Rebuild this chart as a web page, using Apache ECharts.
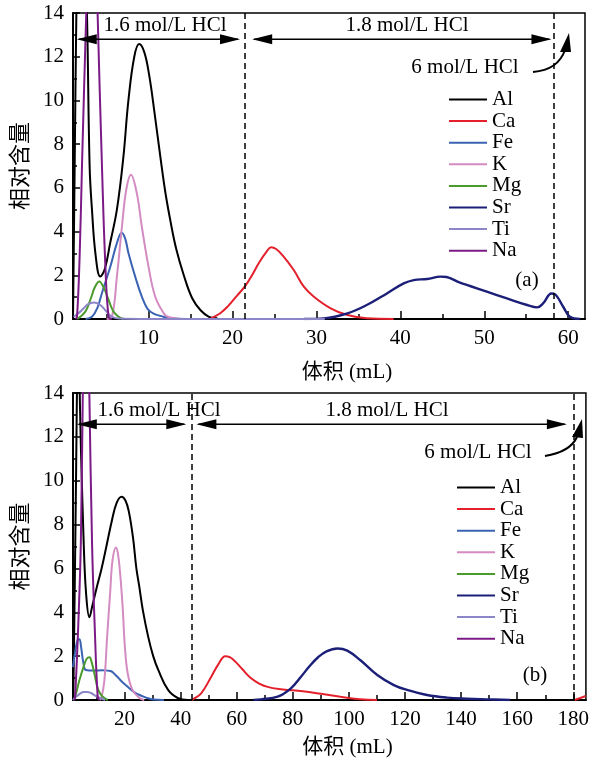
<!DOCTYPE html>
<html><head><meta charset="utf-8">
<script src="https://cdn.jsdelivr.net/npm/echarts@6/dist/echarts.min.js"></script>
<style>html,body{margin:0;padding:0;background:#fff}#c{width:592px;height:762px}</style>
</head><body><div id="c"></div>
<script>
// ---------- categories / legend ----------
const elements = ['Al','Ca','Fe','K','Mg','Sr','Ti','Na'];
const elementColors = ['#000000','#e3202b','#3b63b3','#d48bc2','#4a9a2c','#1b1f78','#8c86c8','#7c1a86'];

// ---------- tick values ----------
const xTicksA = [10,20,30,40,50,60];
const xMinorA = [5,15,25,35,45,55];
const xTicksB = [20,40,60,80,100,120,140,160,180];
const xMinorB = [10,30,50,70,90,110,130,150,170];
const yTicks = [0,2,4,6,8,10,12,14];

// ---------- panel (a) series values [volume mL, relative content] ----------
const alA = [[1.0,0],[1.2,7],[1.4,14],[1.7,21],[2.1,21],[2.66,14],[2.98,7],[3.26,5.0],[3.7,2.9],[4.25,1.94],[4.8,2.3],[5.44,3.5],[6.23,5.0],[7.0,7.4],[7.6,10.0],[8.3,12.0],[8.88,12.58],[9.5,12.2],[10.1,11.1],[10.67,9.56],[11.46,7.27],[12.0,5.8],[12.6,4.5],[13.3,3.2],[14.2,2.0],[15.2,0.95],[16.2,0.4],[17.2,0.1],[18.2,0.03]];
const caA = [[17.4,0.03],[18.5,0.25],[19.5,0.6],[20.5,1.05],[21.5,1.5],[22.4,2.05],[23.2,2.6],[24.0,3.05],[24.6,3.28],[25.2,3.2],[26.0,2.9],[27.3,2.24],[28.5,1.48],[29.7,1.02],[31.7,0.49],[33.7,0.18],[36.0,0.03],[39.2,0]];
const feA = [[2.5,0],[3.26,0.1],[3.9,0.5],[4.45,1.19],[5.44,2.39],[6.23,3.47],[6.8,3.95],[7.2,3.7],[7.62,3.0],[8.41,1.94],[9.2,1.02],[9.9,0.45],[10.6,0.25],[11.8,0.1],[12.3,0.05],[14.4,0],[22,0]];
const kA = [[5.0,0],[5.64,0.1],[6.23,1.94],[6.83,4.22],[7.34,5.9],[7.9,6.6],[8.6,5.76],[9.2,4.22],[10.0,2.39],[10.8,1.02],[11.8,0.27],[12.3,0.1],[13.8,0]];
const mgA = [[1.5,0],[1.87,0.1],[2.5,0.35],[3.06,0.87],[3.6,1.45],[4.13,1.72],[4.7,1.4],[5.24,0.87],[5.8,0.35],[6.43,0.1],[7.0,0]];
const srA = [[28.5,0],[30.9,0.03],[33.7,0.26],[36.0,0.64],[38.4,1.17],[40.4,1.63],[41.6,1.78],[43.2,1.83],[44.8,1.94],[45.5,1.92],[47.1,1.66],[48.3,1.51],[50.3,1.25],[52.7,0.94],[55.1,0.64],[56.3,0.53],[57.0,0.71],[58.0,1.17],[58.4,1.14],[59.4,0.56],[60.2,0.1],[61.4,0]];
const tiA = [[1.08,0.1],[1.6,0.25],[2.07,0.41],[2.8,0.68],[3.5,0.76],[4.2,0.65],[4.84,0.41],[5.3,0.2],[5.64,0.1],[6.5,0.02],[10,0],[31,0]];
const naA = [[1.3,0],[1.48,0.1],[1.8,3],[2.07,7],[2.58,14],[3.0,19],[3.3,20.5],[3.6,19],[3.93,14],[4.45,7],[4.85,2.5],[5.24,0.1],[5.6,0]];

// ---------- panel (b) series values ----------
const alB = [[1.7,0],[2.4,7],[3.0,14],[3.5,21],[3.7,21],[4.0,14],[5.44,7.07],[6.3,4.8],[7.45,3.77],[8.5,4.3],[10.0,5.1],[11.8,6.0],[13.5,7.0],[15.5,8.2],[17.2,9.0],[18.9,9.27],[20.3,9.1],[21.5,8.6],[23.0,7.4],[24.2,6.0],[25.2,5.2],[26.5,4.1],[28.4,2.89],[30.2,2.0],[32.0,1.37],[35.5,0.46],[39.1,0.08],[42.6,0]];
const caB = [[44.0,0],[44.4,0.03],[47.3,0.3],[50.9,1.06],[53.3,1.6],[55.9,2.0],[57.5,1.95],[59.5,1.75],[62.0,1.4],[65.0,1.0],[68.0,0.75],[71.0,0.6],[75.0,0.5],[80.0,0.44],[85.0,0.38],[90,0.28],[97.0,0.15],[104.0,0.03],[110,0],null,[180.5,0],[182.3,0.08],[184.4,0.18]];
const feB = [[1.6,1.5],[2.5,2.3],[3.3,2.75],[3.9,2.77],[4.5,2.4],[5.3,1.7],[6.2,1.37],[9.2,1.34],[12,1.36],[14.0,1.34],[15.4,1.3],[16.3,1.2],[17.5,1.05],[18.7,0.88],[21.1,0.6],[23.4,0.36],[25,0.25],[27.0,0.14],[28.4,0.08],[30.2,0.02],[34,0]];
const kB = [[11.0,0],[11.8,0.15],[12.8,0.91],[13.7,2.74],[14.9,5.0],[15.7,6.38],[16.9,6.96],[17.6,6.7],[18.4,5.78],[19.3,4.25],[20.1,2.43],[21.1,1.22],[22.8,0.46],[25.2,0.1],[27,0]];
const mgB = [[1.7,0],[2.35,0.15],[3.9,0.91],[5.6,1.6],[6.5,1.88],[7.45,1.95],[8.3,1.7],[9.2,1.22],[10.6,0.46],[12.2,0.15],[14,0]];
const srB = [[66,0],[68.6,0.03],[74.6,0.15],[79.3,0.53],[82.9,1.06],[86.0,1.55],[89.0,1.95],[92.0,2.22],[95.9,2.35],[99.4,2.25],[104.2,1.8],[110.1,1.14],[116.0,0.68],[120.7,0.46],[127.8,0.23],[135,0.11],[142,0.06],[149.2,0.03],[157.5,0]];
const tiB = [[1.7,0],[2.1,0.08],[3.9,0.27],[5.3,0.36],[6.6,0.37],[8.0,0.32],[9.5,0.2],[11.5,0.08],[13,0]];
const naB = [[2.0,0],[2.35,0.15],[3.5,3.5],[4.4,7.2],[5.08,13.8],[6.0,20],[6.6,20],[7.45,13.8],[8.4,7.1],[9.3,3.5],[10.4,0.15],[11,0]];

// ---------- boundaries (dashed lines) ----------
const boundsA = [21.5, 58.3];
const boundsB = [43.8, 180];

const seriesA = [alA, caA, feA, kA, mgA, srA, tiA, naA];
const seriesB = [alB, caB, feB, kB, mgB, srB, tiB, naB];

const SERIF = "'Liberation Serif','Times New Roman',serif";
const MIX = "'Liberation Serif','Noto Sans CJK SC',serif";
const FS = 21;

function makeSeries(data, i, xi, yi, bounds) {
  const s = {
    type: 'line', name: elements[i], data: data,
    xAxisIndex: xi, yAxisIndex: yi,
    smooth: 0.4, showSymbol: false, symbol: 'none', connectNulls: false,
    color: elementColors[i],
    lineStyle: { width: elements[i] === 'Sr' ? 2.4 : 2, color: elementColors[i] },
    itemStyle: { color: elementColors[i] },
    animation: false, silent: true
  };
  if (i === 0) {
    s.markLine = {
      silent: true, symbol: 'none', animation: false,
      label: { show: false },
      lineStyle: { color: '#000', type: [6, 4], width: 1.5 },
      data: bounds.map(v => ({ xAxis: v }))
    };
  }
  return s;
}

function xMajor(grid, min, max, ticks, gap) {
  return {
    gridIndex: grid, type: 'value', min: min, max: max, position: 'bottom',
    axisLine: { show: true, onZero: false, lineStyle: { color: '#000', width: 2 } },
    axisTick: { show: true, inside: true, length: 8, customValues: ticks, lineStyle: { color: '#000', width: 1.5 } },
    axisLabel: { show: true, customValues: ticks, margin: 9, color: '#000', fontFamily: SERIF, fontSize: FS },
    splitLine: { show: false },
    name: '体积 (mL)', nameLocation: 'middle', nameGap: gap,
    nameTextStyle: { color: '#000', fontFamily: MIX, fontSize: 21, padding: [0, 0, 0, 36] }
  };
}
function xMinor(grid, min, max, ticks) {
  return {
    gridIndex: grid, type: 'value', min: min, max: max, position: 'bottom',
    axisLine: { show: false, onZero: false },
    axisTick: { show: true, inside: true, length: 5, customValues: ticks, lineStyle: { color: '#000', width: 1.5 } },
    axisLabel: { show: false }, splitLine: { show: false }
  };
}
function yAx(grid) {
  return {
    gridIndex: grid, type: 'value', min: 0, max: 14, interval: 2,
    axisLine: { show: true, lineStyle: { color: '#000', width: 2 } },
    axisTick: { show: true, inside: true, length: 7, lineStyle: { color: '#000', width: 1.5 } },
    minorTick: { show: true, splitNumber: 2, length: 4, lineStyle: { color: '#000', width: 1.5 } },
    axisLabel: { margin: 9, color: '#000', fontFamily: SERIF, fontSize: FS },
    splitLine: { show: false },
    name: '相对含量', nameLocation: 'middle', nameRotate: 90, nameGap: 43,
    nameTextStyle: { color: '#000', fontFamily: "'Noto Sans CJK SC',sans-serif", fontSize: 22 }
  };
}
function legendAt(left, top) {
  return {
    data: elements, orient: 'vertical', left: left, top: top, padding: 0,
    icon: 'rect', itemWidth: 38, itemHeight: 2, itemGap: 0.6,
    selectedMode: false,
    textStyle: { color: '#000', fontFamily: SERIF, fontSize: FS, lineHeight: 21 }
  };
}

const option = {
  backgroundColor: '#fff',
  animation: false,
  grid: [
    { left: 72, top: 13, width: 513, height: 306, show: true, borderColor: '#000', borderWidth: 1.5 },
    { left: 71, top: 393, width: 515, height: 307, show: true, borderColor: '#000', borderWidth: 1.5 }
  ],
  xAxis: [
    xMajor(0, 1, 62, xTicksA, 43), xMinor(0, 1, 62, xMinorA),
    xMajor(1, 1.6, 184.5, xTicksB, 37), xMinor(1, 1.6, 184.5, xMinorB)
  ],
  yAxis: [yAx(0), yAx(1)],
  legend: [legendAt(449, 89), legendAt(457, 477)],
  series: [
    ...seriesA.map((d, i) => makeSeries(d, i, 0, 0, boundsA)),
    ...seriesB.map((d, i) => makeSeries(d, i, 2, 1, boundsB))
  ]
};

const chart = echarts.init(document.getElementById('c'), null, { renderer: 'canvas' });
chart.setOption(option);

// ---------- annotations ----------
function P(si, x, y) { return chart.convertToPixel({ seriesIndex: si }, [x, y]); }
function dblArrow(p1, p2) {
  const y = p1[1], L = 20, H = 5;
  return [
    { type: 'line', shape: { x1: p1[0] + 2, y1: y, x2: p2[0] - 2, y2: y }, style: { stroke: '#000', lineWidth: 1.5 }, z: 50 },
    { type: 'polygon', shape: { points: [[p1[0], y], [p1[0] + L, y - H], [p1[0] + L, y + H]] }, style: { fill: '#000' }, z: 50 },
    { type: 'polygon', shape: { points: [[p2[0], y], [p2[0] - L, y - H], [p2[0] - L, y + H]] }, style: { fill: '#000' }, z: 50 }
  ];
}
function txt(x, y, s, align) {
  return { type: 'text', x: x, y: y, z: 60,
    style: { text: s, fill: '#000', fontFamily: SERIF, fontSize: FS, align: align || 'center', verticalAlign: 'middle' } };
}
function curvedArrow(x1, y1, cx, cy, x2, y2, tip, base1, base2) {
  return [
    { type: 'bezierCurve', shape: { x1: x1, y1: y1, cpx1: cx, cpy1: cy, x2: x2, y2: y2 }, style: { stroke: '#000', lineWidth: 2, fill: null }, z: 50 },
    { type: 'polygon', shape: { points: [tip, base1, base2] }, style: { fill: '#000' }, z: 50 }
  ];
}

const arrowYA = 12.8, arrowYB = 12.58;
const g = [];
g.push(...dblArrow(P(0, 1.45, arrowYA), P(0, 20.9, arrowYA)));
g.push(...dblArrow(P(0, 22.35, arrowYA), P(0, 58.0, arrowYA)));
g.push(...dblArrow(P(8, 2.95, arrowYB), P(8, 42.0, arrowYB)));
g.push(...dblArrow(P(8, 45.6, arrowYB), P(8, 177.7, arrowYB)));
g.push(txt(165, 25, '1.6 mol/L HCl'));
g.push(txt(407, 25, '1.8 mol/L HCl'));
g.push(txt(465, 67, '6 mol/L HCl'));
g.push(txt(159, 410, '1.6 mol/L HCl'));
g.push(txt(387, 410, '1.8 mol/L HCl'));
g.push(txt(478, 452, '6 mol/L HCl'));
g.push(txt(527, 280, '(a)'));
g.push(txt(535, 675, '(b)'));
g.push(...curvedArrow(533, 72, 558, 70, 565, 50, [569, 33], [560, 52], [571, 52]));
g.push(...curvedArrow(545, 456, 570, 452, 577, 437, [582, 419], [572, 437], [583, 438]));
chart.setOption({ graphic: g });
</script>
</body></html>
